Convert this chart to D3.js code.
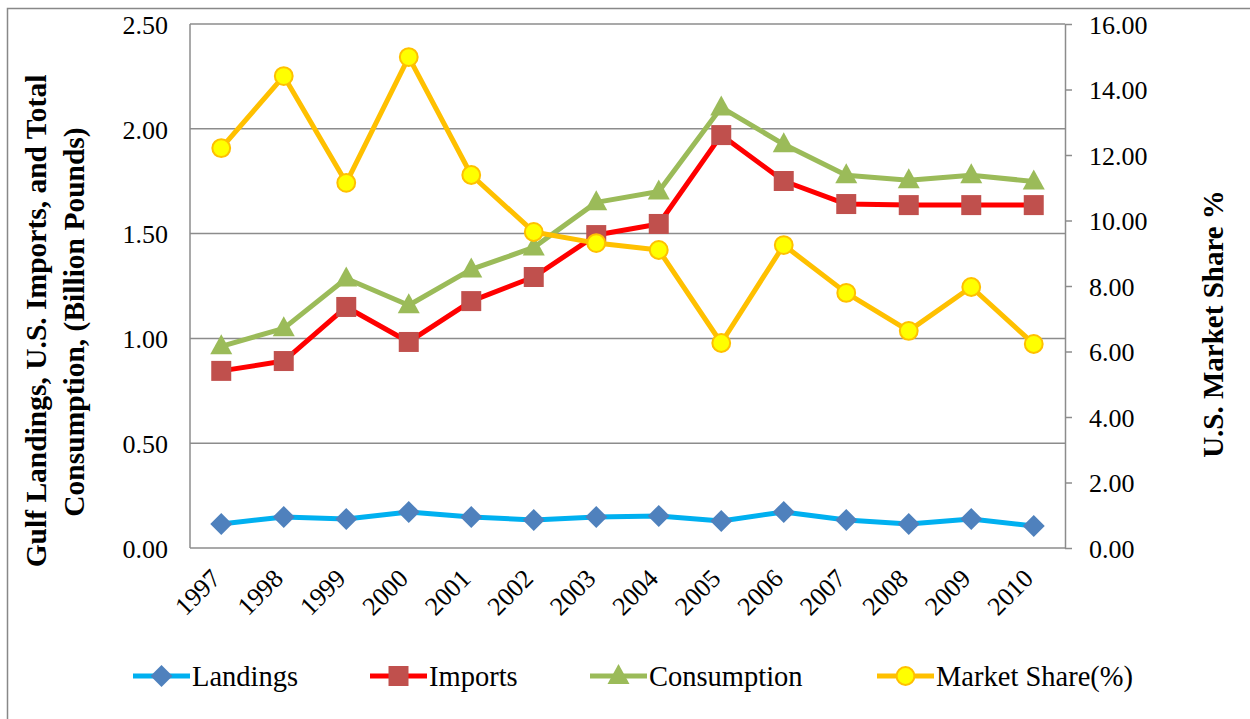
<!DOCTYPE html>
<html>
<head>
<meta charset="utf-8">
<script src="https://cdn.jsdelivr.net/npm/d3@7/dist/d3.min.js"></script>
<style>
  body { margin: 0; background: #fff; }
  svg text { font-family: "Liberation Serif", "Times New Roman", serif !important; fill: #000; }
</style>
</head>
<body>
<svg id="chart" width="1250" height="719"></svg>
<script>
let years = ["1997", "1998", "1999", "2000", "2001", "2002", "2003", "2004", "2005", "2006", "2007", "2008", "2009", "2010"];
let landings = [0.115, 0.148, 0.138, 0.172, 0.148, 0.134, 0.148, 0.153, 0.129, 0.172, 0.134, 0.115, 0.138, 0.105];
let imports = [0.845, 0.892, 1.150, 0.983, 1.178, 1.293, 1.493, 1.546, 1.970, 1.751, 1.641, 1.636, 1.636, 1.636];
let consumption = [0.962, 1.048, 1.286, 1.158, 1.329, 1.434, 1.649, 1.701, 2.102, 1.926, 1.778, 1.754, 1.778, 1.749];
let marketShare = [12.21, 14.41, 11.15, 14.99, 11.39, 9.65, 9.31, 9.10, 6.26, 9.25, 7.79, 6.63, 7.97, 6.23];
let leftTicks = [0, 0.5, 1.0, 1.5, 2.0, 2.5];
let rightTicks = [0, 2, 4, 6, 8, 10, 12, 14, 16];

let svg = d3.select("#chart");

let margin = { top: 24, right: 185, bottom: 171, left: 190 };
let width = 1250 - margin.left - margin.right;
let height = 719 - margin.top - margin.bottom;

// outer frame
svg.append("rect")
    .attr("x", 7.5).attr("y", 8.5)
    .attr("width", 1250).attr("height", 720)
    .attr("fill", "none")
    .attr("stroke", "#888")
    .attr("stroke-width", 1.5);

let xScale = d3.scaleBand().domain(years).range([0, width]);
let yLeft = d3.scaleLinear().domain([0, 2.5]).range([height, 0]);
let yRight = d3.scaleLinear().domain([0, 16]).range([height, 0]);

let g = svg.append("g")
    .attr("transform", "translate(" + margin.left + "," + margin.top + ")");

// gridlines
g.selectAll(".grid")
    .data(leftTicks)
    .enter()
    .append("line")
    .attr("x1", 0)
    .attr("x2", width)
    .attr("y1", d => yLeft(d))
    .attr("y2", d => yLeft(d))
    .attr("stroke", "#8c8c8c")
    .attr("stroke-width", 1.5);

// plot frame left side
g.append("line")
    .attr("x1", 0).attr("x2", 0)
    .attr("y1", 0).attr("y2", height)
    .attr("stroke", "#8c8c8c")
    .attr("stroke-width", 1.5);

// left axis
let leftAxis = g.append("g")
    .call(d3.axisLeft(yLeft).tickValues(leftTicks).tickFormat(d3.format(".2f")).tickSize(0).tickPadding(22));
leftAxis.select(".domain").remove();
leftAxis.selectAll("text").attr("font-size", "26px").attr("dy", "0.36em");

// right axis
let rightAxis = g.append("g")
    .attr("transform", "translate(" + width + ",0)")
    .call(d3.axisRight(yRight).tickValues(rightTicks).tickFormat(d3.format(".2f")).tickSize(7).tickSizeOuter(0).tickPadding(17));
rightAxis.select(".domain").attr("stroke", "#8c8c8c").attr("stroke-width", 1.5);
rightAxis.selectAll("line").attr("stroke", "#8c8c8c").attr("stroke-width", 1.5);
rightAxis.selectAll("text").attr("font-size", "26px").attr("dy", "0.36em");

// x axis labels
let xAxis = g.append("g")
    .attr("transform", "translate(0," + height + ")")
    .call(d3.axisBottom(xScale).tickSize(0).tickPadding(0));
xAxis.select(".domain").remove();
xAxis.selectAll("text")
    .attr("font-size", "26px")
    .attr("text-anchor", "end")
    .attr("dy", "0")
    .attr("transform", "translate(1,32) rotate(-45)");

// axis titles
svg.append("text")
    .attr("transform", "translate(46,321) rotate(-90)")
    .attr("text-anchor", "middle")
    .attr("font-size", "29.5px")
    .attr("font-weight", "bold")
    .text("Gulf Landings, U.S. Imports, and Total");
svg.append("text")
    .attr("transform", "translate(84,322) rotate(-90)")
    .attr("text-anchor", "middle")
    .attr("font-size", "29.5px")
    .attr("font-weight", "bold")
    .text("Consumption, (Billion Pounds)");
svg.append("text")
    .attr("transform", "translate(1223,324) rotate(-90)")
    .attr("text-anchor", "middle")
    .attr("font-size", "29px")
    .attr("font-weight", "bold")
    .text("U.S. Market Share %");

let cx = d => xScale(d) + xScale.bandwidth() / 2;

let series = [
    { name: "Landings", values: landings, scale: yLeft, line: "#00B0F0", fill: "#4F81BD", stroke: "none", symbol: "diamond" },
    { name: "Imports", values: imports, scale: yLeft, line: "#FF0000", fill: "#C0504D", stroke: "none", symbol: "square" },
    { name: "Consumption", values: consumption, scale: yLeft, line: "#9BBB59", fill: "#9BBB59", stroke: "none", symbol: "triangle" },
    { name: "Market Share(%)", values: marketShare, scale: yRight, line: "#FFC000", fill: "#FFFF00", stroke: "#FFC000", symbol: "circle" }
];

function markerPath(symbol) {
    if (symbol == "diamond") return "M0,-11L11,0L0,11L-11,0Z";
    if (symbol == "square") return "M-10,-10H10V10H-10Z";
    if (symbol == "triangle") return "M0,-12L11,8H-11Z";
    return d3.symbol().type(d3.symbolCircle).size(250)();
}

series.forEach(s => {
    let line = d3.line()
        .x((d, i) => cx(years[i]))
        .y(d => s.scale(d));

    g.append("path")
        .datum(s.values)
        .attr("d", line)
        .attr("fill", "none")
        .attr("stroke", s.line)
        .attr("stroke-width", 5)
        .attr("stroke-linejoin", "round");

    g.selectAll(".m-" + s.symbol)
        .data(s.values)
        .enter()
        .append("path")
        .attr("class", "m-" + s.symbol)
        .attr("d", markerPath(s.symbol))
        .attr("transform", (d, i) => "translate(" + cx(years[i]) + "," + s.scale(d) + ")")
        .attr("fill", s.fill)
        .attr("stroke", s.stroke)
        .attr("stroke-width", 2);
});

// legend
let legendX = [133, 370, 590, 877];
let legend = svg.append("g");
series.forEach((s, i) => {
    let lg = legend.append("g").attr("transform", "translate(" + legendX[i] + ",676)");
    lg.append("line")
        .attr("x1", 0).attr("x2", 57)
        .attr("y1", 0).attr("y2", 0)
        .attr("stroke", s.line)
        .attr("stroke-width", 5);
    lg.append("path")
        .attr("d", markerPath(s.symbol))
        .attr("transform", "translate(28.5,0)")
        .attr("fill", s.fill)
        .attr("stroke", s.stroke)
        .attr("stroke-width", 2);
    lg.append("text")
        .attr("x", 59)
        .attr("y", 10)
        .attr("font-size", "28.5px")
        .text(s.name);
});
</script>
</body>
</html>
